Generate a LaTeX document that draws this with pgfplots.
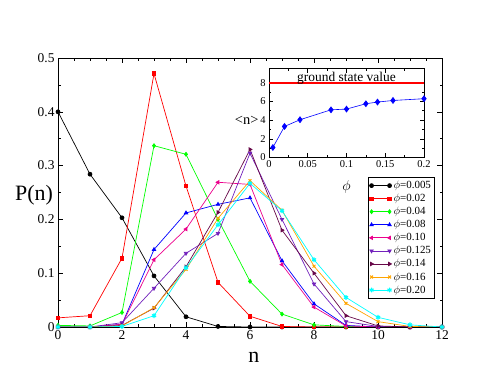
\documentclass[border=0pt]{standalone}
\usepackage{pgfplots}
\pgfplotsset{compat=1.18}
\usepackage{pgfplotstable}
\usepackage{fontspec}
\setmainfont{Liberation Serif}

\definecolor{xred}{RGB}{255,0,0}
\definecolor{xgreen}{RGB}{0,255,0}
\definecolor{xcyan}{RGB}{0,255,255}
\definecolor{xindigo}{RGB}{114,33,188}
\definecolor{xmaroon}{RGB}{103,7,72}
\definecolor{xorange}{RGB}{255,165,0}

% P(n) for each phi
\pgfplotstableread{
n  a     b     c     d     e     f     g     h     i
0  0.400 0.017 0.003 0.000 0.000 0.000 0.000 0.000 0.000
1  0.284 0.021 0.002 0.000 0.000 0.000 0.000 0.000 0.000
2  0.203 0.128 0.027 0.005 0.005 0.008 0.003 0.002 0.001
3  0.095 0.471 0.337 0.144 0.125 0.072 0.035 0.036 0.021
4  0.019 0.262 0.321 0.212 0.182 0.137 0.112 0.107 0.110
5  0.001 0.083 0.200 0.228 0.269 0.174 0.213 0.202 0.190
6  0.000 0.020 0.085 0.240 0.265 0.323 0.330 0.272 0.267
7  0.000 0.001 0.024 0.123 0.116 0.200 0.180 0.217 0.216
8  0.000 0.000 0.004 0.043 0.037 0.080 0.100 0.113 0.125
9  0.000 0.000 0.001 0.003 0.002 0.010 0.021 0.044 0.055
10 0.000 0.000 0.000 0.000 0.000 0.001 0.002 0.010 0.018
11 0.000 0.000 0.000 0.000 0.000 0.000 0.000 0.001 0.004
12 0.000 0.000 0.000 0.000 0.000 0.000 0.000 0.000 0.000
}\pdist

% <n> against phi
\pgfplotstableread{
phi   nmean
0.005 1.07
0.02  3.32
0.04  4.04
0.08  5.10
0.10  5.18
0.125 5.75
0.14  5.93
0.16  6.10
0.20  6.29
}\nmean

\begin{document}
\begin{tikzpicture}
\begin{axis}[
  at={(0,0)}, anchor=south west, scale only axis,
  width=384bp, height=269bp,
  xmin=0, xmax=12, ymin=0, ymax=0.5,
  xtick={0,2,4,6,8,10,12}, ytick={0,0.1,0.2,0.3,0.4,0.5},
  minor x tick num=3, minor y tick num=1,
  tick align=inside, major tick length=5bp, minor tick length=2.5bp,
  axis line style={line width=0.8pt},
  every tick/.style={black, line width=0.6pt},
  ticklabel style={font=\fontsize{13.5}{15}\selectfont},
  /pgf/number format/assume math mode=true,
  yticklabel style={/pgf/number format/fixed},
  xlabel={n}, ylabel={P(n)},
  label style={font=\fontsize{22}{26}\selectfont},
  xlabel style={at={(axis description cs:0.51,-0.112)}, anchor=center},
  ylabel style={at={(axis description cs:-0.0625,0.49)}, anchor=center, rotate=-90},
  legend style={at={(0.8065,0.5565)}, anchor=north west, draw=black,
    line width=0.6pt, font=\fontsize{11}{13}\selectfont, inner sep=1.5pt},
  legend cell align=left,
  legend image code/.code={\draw[#1] plot coordinates {(0bp,0bp) (18bp,0bp)};},
  every axis plot/.append style={line width=0.7pt, mark size=2pt},
]
\addplot[black, mark=*] table[x=n, y=a] {\pdist};
\addlegendentry{$\phi$=0.005}
\addplot[xred, mark=square*, mark size=1.8pt] table[x=n, y=b] {\pdist};
\addlegendentry{$\phi$=0.02}
\addplot[xgreen, mark=diamond*] table[x=n, y=c] {\pdist};
\addlegendentry{$\phi$=0.04}
\addplot[blue, mark=triangle*] table[x=n, y=d] {\pdist};
\addlegendentry{$\phi$=0.08}
\addplot[magenta, mark=triangle*, mark options={rotate=90}] table[x=n, y=e] {\pdist};
\addlegendentry{$\phi$=0.10}
\addplot[xindigo, mark=triangle*, mark options={rotate=180}] table[x=n, y=f] {\pdist};
\addlegendentry{$\phi$=0.125}
\addplot[xmaroon, mark=triangle*, mark options={rotate=-90}] table[x=n, y=g] {\pdist};
\addlegendentry{$\phi$=0.14}
\addplot[xorange, mark=x, mark options={line width=1pt}] table[x=n, y=h] {\pdist};
\addlegendentry{$\phi$=0.16}
\addplot[xcyan, mark=asterisk, mark size=2.4pt, mark options={line width=1.1pt}] table[x=n, y=i] {\pdist};
\addlegendentry{$\phi$=0.20}
\end{axis}

\begin{axis}[
  at={(211bp,169.5bp)}, anchor=south west, scale only axis,
  width=155bp, height=88.8bp,
  xmin=0, xmax=0.2, ymin=0, ymax=9.5,
  xtick={0,0.05,0.1,0.15,0.2}, ytick={0,2,4,6,8},
  minor x tick num=1, minor y tick num=1,
  tick align=inside, major tick length=4bp, minor tick length=2bp,
  axis line style={line width=0.8pt},
  every tick/.style={black, line width=0.6pt},
  axis background/.style={fill=white},
  ticklabel style={font=\fontsize{10.5}{12}\selectfont},
  /pgf/number format/assume math mode=true,
  xticklabel style={/pgf/number format/fixed},
  xlabel={$\phi$}, ylabel={<n>},
  xlabel style={font=\fontsize{15}{17}\selectfont, at={(axis description cs:0.5,-0.33)}, anchor=center},
  ylabel style={font=\fontsize{14.5}{17}\selectfont, at={(axis description cs:-0.144,0.42)}, anchor=center, rotate=-90},
]
\addplot[xred, line width=1.4pt] coordinates {(0,7.95) (0.2,7.95)};
\addplot[blue, line width=0.6pt, mark=diamond*, mark size=3pt] table[x=phi, y=nmean] {\nmean};
\node[anchor=base, font=\fontsize{13.5}{16}\selectfont, inner sep=0pt] at (axis cs:0.1,8.15) {ground state value};
\end{axis}
\path (-58bp,-58bp) rectangle (440bp,327bp);
\end{tikzpicture}
\end{document}
